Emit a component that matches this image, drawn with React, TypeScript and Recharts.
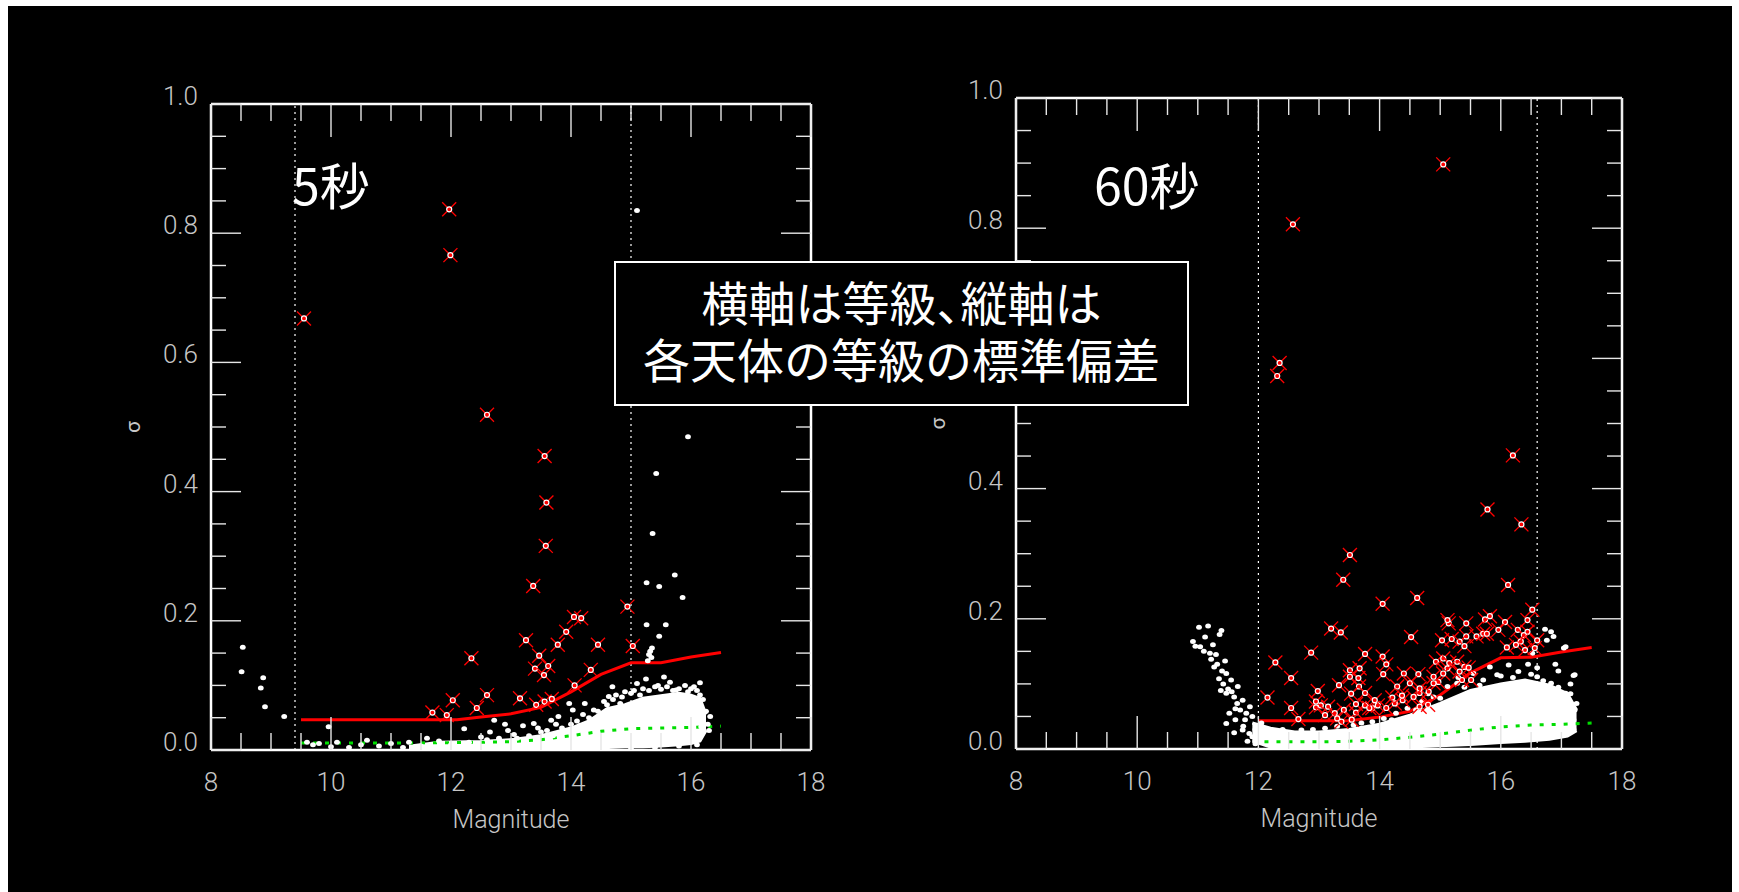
import React from "react";
import { Area, ComposedChart, Label, Line, ReferenceLine, Scatter, XAxis, YAxis } from "recharts";

// axis ticks: minor every 0.5 mag / 0.05 sigma, labels every 2 mag / 0.2 sigma
const magTicks = [8, 8.5, 9, 9.5, 10, 10.5, 11, 11.5, 12, 12.5, 13, 13.5, 14, 14.5, 15, 15.5, 16, 16.5, 17, 17.5, 18];
const magLabels = [8, 10, 12, 14, 16, 18];
const sigmaTicks = [0, 0.05, 0.1, 0.15, 0.2, 0.25, 0.3, 0.35, 0.4, 0.45, 0.5, 0.55, 0.6, 0.65, 0.7, 0.75, 0.8, 0.85, 0.9, 0.95, 1];
const sigmaLabels = ["0.0", "0.2", "0.4", "0.6", "0.8", "1.0"];

// ---- 5 sec exposure ----
const shortCuts = [9.4, 15.0];
const shortRejected: [number, number][] = [
  [9.55, 0.668], [11.97, 0.837], [11.99, 0.766], [12.6, 0.519],
  [13.56, 0.455], [13.59, 0.383], [13.58, 0.316], [13.37, 0.254], [14.94, 0.222], [14.05, 0.206],
  [14.17, 0.204], [13.92, 0.183], [13.25, 0.17], [13.78, 0.163], [14.45, 0.163], [15.03, 0.161],
  [12.34, 0.142], [13.47, 0.146], [13.4, 0.126], [13.62, 0.13], [13.55, 0.116], [14.33, 0.124],
  [14.06, 0.1], [12.6, 0.085], [12.03, 0.077], [13.15, 0.08], [12.43, 0.065], [13.42, 0.07],
  [13.56, 0.075], [13.68, 0.079], [11.69, 0.058], [11.93, 0.054],
];
const shortStars: [number, number][] = [
  [8.53, 0.159], [8.51, 0.121], [8.87, 0.112], [8.83, 0.096], [8.9, 0.067], [9.22, 0.052], [9.96, 0.036],
  [15.1, 0.835], [15.95, 0.485], [15.42, 0.428], [15.36, 0.335], [15.73, 0.271], [15.26, 0.259],
  [15.47, 0.253], [15.86, 0.236], [15.26, 0.194], [15.58, 0.194], [15.47, 0.176], [15.32, 0.153],
  [15.35, 0.158], [15.3, 0.148],
  [9.6, 0.012], [9.7, 0.008], [9.8, 0.01], [10.0, 0.005], [10.1, 0.012], [10.3, 0.004], [10.5, 0.008],
  [10.6, 0.015], [10.8, 0.006], [11.0, 0.01], [11.2, 0.004], [11.3, 0.012], [11.5, 0.006], [11.6, 0.018],
  [11.8, 0.014], [12.0, 0.008], [12.22, 0.033], [12.72, 0.046], [12.9, 0.04], [13.2, 0.0375], [13.38, 0.041],
  [13.67, 0.046], [13.79, 0.052], [13.97, 0.072], [14.03, 0.062], [14.23, 0.072], [14.38, 0.062],
  [14.63, 0.083], [14.69, 0.098], [14.82, 0.072], [15.1, 0.103], [15.28, 0.138], [15.34, 0.143],
  [15.55, 0.113], [15.4, 0.098], [15.75, 0.093], [16.05, 0.098], [16.32, 0.052], [16.17, 0.036],
  [12.5, 0.02], [12.65, 0.028], [12.8, 0.018], [12.95, 0.03], [13.05, 0.024], [13.3, 0.022],
  [13.45, 0.034], [13.6, 0.03], [13.75, 0.04], [13.85, 0.034], [14.1, 0.045], [14.2, 0.055],
  [14.3, 0.05], [14.45, 0.06], [14.55, 0.075], [14.75, 0.085], [14.9, 0.09], [15.05, 0.092],
  [15.2, 0.095], [15.45, 0.1], [15.6, 0.098], [15.8, 0.095], [15.95, 0.09], [16.1, 0.092],
  [16.25, 0.06], [16.28, 0.04], [16.3, 0.03],
  [14.6, 0.07], [14.7, 0.078], [14.85, 0.082], [15.0, 0.088], [15.15, 0.085], [15.3, 0.092], [15.5, 0.094],
  [15.7, 0.092], [15.9, 0.1], [16.0, 0.095], [16.15, 0.085], [16.2, 0.078], [15.25, 0.11], [15.65, 0.105],
  [16.15, 0.104], [12.1, 0.004], [12.3, 0.012], [12.45, 0.006], [12.6, 0.016], [12.85, 0.01], [13.1, 0.018],
  [13.25, 0.012], [13.5, 0.028], [13.7, 0.022], [13.9, 0.03], [14.0, 0.04], [14.15, 0.038], [14.35, 0.046],
  [14.6, 0.004], [15.0, 0.003], [15.4, 0.004], [15.8, 0.006], [16.1, 0.008],
];
const shortCloud: [number, number, number][] = [
  [11.3, 0.001, 0.006], [11.8, 0.0, 0.012], [12.5, 0.0, 0.013], [13.0, 0.0, 0.016], [13.5, 0.001, 0.022],
  [14.0, 0.002, 0.034], [14.3, 0.003, 0.045], [14.6, 0.004, 0.064], [14.9, 0.005, 0.07], [15.2, 0.005, 0.08],
  [15.5, 0.006, 0.084], [15.8, 0.008, 0.088], [16.0, 0.01, 0.085], [16.15, 0.014, 0.08], [16.25, 0.03, 0.055],
];
const shortLimit: [number, number][] = [
  [9.5, 0.047], [12.1, 0.047], [12.5, 0.051], [13.0, 0.056], [13.5, 0.066], [14.0, 0.09],
  [14.5, 0.117], [15.0, 0.135], [15.5, 0.135], [16.0, 0.144], [16.5, 0.151],
];
const shortNoise: [number, number][] = [
  [9.5, 0.011], [10.5, 0.011], [11.5, 0.011], [12.2, 0.0115], [13.0, 0.013], [13.5, 0.016],
  [14.0, 0.022], [14.5, 0.029], [15.0, 0.033], [15.5, 0.034], [16.0, 0.035], [16.5, 0.037],
];

// ---- 60 sec exposure ----
const longCuts = [12.0, 16.6];
const longRejected: [number, number][] = [
  [15.05, 0.898], [12.57, 0.806], [12.35, 0.593], [12.31, 0.573], [16.2, 0.451], [15.78, 0.368], [16.34, 0.345],
  [13.51, 0.298], [13.4, 0.26], [16.12, 0.252], [14.62, 0.232], [14.05, 0.223], [16.52, 0.214], [13.2, 0.185],
  [13.36, 0.179], [14.52, 0.172], [12.87, 0.148], [12.28, 0.133], [12.54, 0.109], [12.15, 0.079], [12.54, 0.063],
  [12.66, 0.046], [13.76, 0.146], [14.05, 0.142], [14.11, 0.13], [14.06, 0.115], [13.51, 0.121], [13.67, 0.124],
  [13.51, 0.111], [13.33, 0.098], [12.98, 0.089], [13.66, 0.096], [13.53, 0.085], [13.76, 0.086], [13.61, 0.069],
  [12.95, 0.064], [13.03, 0.067], [13.15, 0.065], [13.26, 0.055], [13.41, 0.06], [13.61, 0.056], [13.76, 0.067],
  [13.88, 0.063], [13.97, 0.067], [14.21, 0.079], [14.38, 0.075], [14.64, 0.115], [14.4, 0.116], [14.5, 0.101],
  [14.66, 0.086], [14.81, 0.088], [15.03, 0.167], [15.19, 0.169], [15.14, 0.193], [15.12, 0.198], [15.43, 0.193],
  [15.6, 0.173], [15.74, 0.199], [15.82, 0.204], [16.07, 0.195], [16.28, 0.183], [15.96, 0.183], [15.71, 0.177],
  [15.77, 0.177], [15.43, 0.173], [15.32, 0.165], [15.4, 0.158], [16.38, 0.175], [16.44, 0.198], [16.1, 0.156],
  [16.56, 0.155], [14.93, 0.134], [15.05, 0.139], [15.15, 0.132], [15.28, 0.134], [15.12, 0.124], [15.4, 0.126],
  [15.32, 0.119], [14.97, 0.103], [14.89, 0.101], [15.36, 0.106], [15.47, 0.125], [14.66, 0.093], [14.56, 0.08],
  [14.25, 0.07], [14.11, 0.063], [13.83, 0.063], [13.54, 0.045], [13.37, 0.042], [13.1, 0.052], [13.3, 0.047],
  [13.92, 0.075], [14.8, 0.068], [14.66, 0.065], [14.29, 0.096], [13.65, 0.109], [14.37, 0.082], [12.95, 0.073],
  [15.05, 0.116], [15.51, 0.106], [16.44, 0.18], [16.6, 0.167], [16.33, 0.165], [14.89, 0.111], [16.4, 0.152],
  [16.25, 0.16],
];
const longStars: [number, number][] = [
  [11.02, 0.187], [11.17, 0.189], [11.39, 0.182], [11.36, 0.176], [10.92, 0.165], [10.96, 0.158], [11.04, 0.157],
  [11.1, 0.15], [11.2, 0.147], [11.22, 0.138], [11.27, 0.126], [11.32, 0.13], [11.4, 0.12], [11.47, 0.116],
  [11.35, 0.108], [11.55, 0.106], [11.42, 0.1], [11.66, 0.096], [11.5, 0.092], [11.47, 0.0855], [11.6, 0.08],
  [11.74, 0.075], [11.65, 0.07], [11.86, 0.065], [11.7, 0.06], [11.8, 0.055], [11.9, 0.05], [11.62, 0.045],
  [11.47, 0.039], [11.75, 0.035], [11.74, 0.029], [11.85, 0.024], [11.9, 0.019], [12.01, 0.014], [11.95, 0.03],
  [12.05, 0.04], [11.12, 0.172], [11.25, 0.16], [11.3, 0.145], [11.45, 0.135], [11.38, 0.09], [11.56, 0.088],
  [11.62, 0.062], [11.52, 0.055], [11.78, 0.045], [11.6, 0.025], [11.82, 0.012], [11.95, 0.008],
  [12.32, 0.024], [12.71, 0.029], [13.1, 0.032], [13.57, 0.037], [13.88, 0.042], [14.07, 0.047], [14.27, 0.055],
  [14.46, 0.0625], [14.7, 0.073], [14.89, 0.08], [15.12, 0.096], [15.28, 0.101], [15.55, 0.116], [15.71, 0.106],
  [15.82, 0.126], [15.94, 0.114], [16.13, 0.129], [16.29, 0.119], [16.6, 0.111], [16.83, 0.101], [17.07, 0.0855],
  [16.83, 0.18], [16.87, 0.173], [16.73, 0.184], [16.76, 0.167], [17.07, 0.157], [17.04, 0.155], [17.22, 0.114],
  [16.52, 0.147], [17.2, 0.113], [16.45, 0.13], [16.95, 0.12], [17.15, 0.1], [17.25, 0.07], [17.2, 0.045],
  [12.4, 0.03], [12.9, 0.03], [13.3, 0.035], [13.7, 0.04], [14.2, 0.045], [14.6, 0.06], [15.0, 0.078],
  [15.4, 0.095], [15.65, 0.098], [16.0, 0.112], [16.2, 0.11], [16.5, 0.115], [16.7, 0.105], [16.95, 0.095],
  [17.15, 0.085], [17.22, 0.06], [17.2, 0.03], [16.9, 0.13], [16.6, 0.125], [15.3, 0.11], [14.8, 0.085],
];
const longCloud: [number, number, number][] = [
  [11.9, 0.012, 0.04], [12.2, 0.003, 0.032], [12.6, 0.0, 0.026], [13.0, 0.0, 0.026], [13.5, 0.0, 0.03],
  [14.0, 0.001, 0.038], [14.5, 0.003, 0.052], [15.0, 0.005, 0.07], [15.5, 0.007, 0.09], [16.0, 0.01, 0.1],
  [16.4, 0.012, 0.106], [16.8, 0.015, 0.098], [17.1, 0.02, 0.085], [17.25, 0.028, 0.06],
];
const longLimit: [number, number][] = [
  [12.0, 0.0435], [13.5, 0.0435], [14.0, 0.049], [14.5, 0.058], [15.0, 0.083], [15.5, 0.117],
  [16.0, 0.14], [16.5, 0.141], [17.0, 0.149], [17.5, 0.156],
];
const longNoise: [number, number][] = [
  [12.1, 0.011], [13.0, 0.011], [13.5, 0.012], [14.0, 0.014], [14.5, 0.018], [15.0, 0.023],
  [15.5, 0.029], [16.0, 0.034], [16.5, 0.037], [17.0, 0.038], [17.5, 0.04],
];

const GREY = "#c6c6c6";
const TICK = "#e6e6e6";
const NUM_FONT = "Roboto, 'DejaVu Sans', sans-serif";
const JP_FONT = "'Noto Sans CJK JP', 'Noto Sans', sans-serif";
const frame = { stroke: "#ffffff", strokeWidth: 2.5 };

const pts = (rows: [number, number][]) => rows.map(([x, y]) => ({ x, y }));
const band = (rows: [number, number, number][]) => rows.map(([x, lo, hi]) => ({ x, band: [lo, hi] }));

const isMajorMag = (v: number) => magLabels.includes(v);
const isMajorSigma = (v: number) => Math.abs(v * 5 - Math.round(v * 5)) < 1e-6;

function BottomTick({ x, y, payload }: any) {
  const major = isMajorMag(payload.value);
  return (
    <g>
      <line x1={x} x2={x} y1={y} y2={y - (major ? 33 : 17)} stroke={TICK} strokeWidth={1.4} />
      {major && (
        <text x={x} y={y + 41} textAnchor="middle" fill={GREY} fontSize={26} fontWeight={300} fontFamily={NUM_FONT}>
          {payload.value}
        </text>
      )}
    </g>
  );
}

function TopTick({ x, y, payload }: any) {
  const major = isMajorMag(payload.value);
  return <line x1={x} x2={x} y1={y} y2={y + (major ? 33 : 17)} stroke={TICK} strokeWidth={1.4} />;
}

function LeftTick({ x, y, payload }: any) {
  const major = isMajorSigma(payload.value);
  return (
    <g>
      <line x1={x} x2={x + (major ? 30 : 15)} y1={y} y2={y} stroke={TICK} strokeWidth={1.4} />
      {major && (
        <text x={x - 13} y={y + 1} textAnchor="end" fill={GREY} fontSize={26} fontWeight={300} fontFamily={NUM_FONT}>
          {sigmaLabels[Math.round(payload.value * 5)]}
        </text>
      )}
    </g>
  );
}

function RightTick({ x, y, payload }: any) {
  const major = isMajorSigma(payload.value);
  return <line x1={x} x2={x - (major ? 30 : 15)} y1={y} y2={y} stroke={TICK} strokeWidth={1.4} />;
}

function WhiteDot({ cx, cy }: any) {
  return <ellipse cx={cx} cy={cy} rx={2.9} ry={2.5} fill="#ffffff" />;
}

function RedCross({ cx, cy }: any) {
  const d = 7;
  return (
    <g>
      <line x1={cx - d} y1={cy - d} x2={cx + d} y2={cy + d} stroke="#ff0000" strokeWidth={1.3} />
      <line x1={cx - d} y1={cy + d} x2={cx + d} y2={cy - d} stroke="#ff0000" strokeWidth={1.3} />
      <circle cx={cx} cy={cy} r={2.5} fill="#ff0000" stroke="#ffffff" strokeWidth={1.2} />
    </g>
  );
}

function MagnitudeLabel({ viewBox }: any) {
  if (!viewBox) return null;
  return (
    <text x={viewBox.x + viewBox.width / 2} y={viewBox.y + 78} textAnchor="middle" fill={GREY} fontSize={25} fontWeight={300} fontFamily={NUM_FONT}>
      Magnitude
    </text>
  );
}

function SigmaLabel({ viewBox }: any) {
  if (!viewBox) return null;
  const x = viewBox.x - 18;
  const y = viewBox.y + viewBox.height / 2;
  return (
    <text x={x} y={y} transform={`rotate(-90 ${x} ${y})`} textAnchor="middle" dominantBaseline="central" fill={GREY} fontSize={21} fontFamily={NUM_FONT}>
      σ
    </text>
  );
}

type PanelProps = {
  width: number;
  height: number;
  margin: { top: number; right: number; bottom: number; left: number };
  cuts: number[];
  cloud: [number, number, number][];
  stars: [number, number][];
  rejected: [number, number][];
  limit: [number, number][];
  noise: [number, number][];
};

function Panel({ width, height, margin, cuts, cloud, stars, rejected, limit, noise }: PanelProps) {
  return (
    <ComposedChart width={width} height={height} margin={margin}>
      <XAxis xAxisId="b" type="number" dataKey="x" domain={[8, 18]} ticks={magTicks} interval={0} allowDataOverflow
        height={60} tickSize={0} tickMargin={0} tick={BottomTick} axisLine={frame} tickLine={false}>
        <Label content={MagnitudeLabel} />
      </XAxis>
      <XAxis xAxisId="t" orientation="top" type="number" dataKey="x" domain={[8, 18]} ticks={magTicks} interval={0} allowDataOverflow
        height={10} tickSize={0} tickMargin={0} tick={TopTick} axisLine={frame} tickLine={false} />
      <YAxis yAxisId="l" type="number" dataKey="y" domain={[0, 1]} ticks={sigmaTicks} interval={0} allowDataOverflow
        width={60} tickSize={0} tickMargin={0} tick={LeftTick} axisLine={frame} tickLine={false}>
        <Label content={SigmaLabel} />
      </YAxis>
      <YAxis yAxisId="r" orientation="right" type="number" dataKey="y" domain={[0, 1]} ticks={sigmaTicks} interval={0} allowDataOverflow
        width={10} tickSize={0} tickMargin={0} tick={RightTick} axisLine={frame} tickLine={false} />
      {cuts.map((c) => (
        <ReferenceLine key={c} xAxisId="b" yAxisId="l" x={c} stroke="#ffffff" strokeWidth={1.2} strokeDasharray="2 4" />
      ))}
      <Area xAxisId="b" yAxisId="l" data={band(cloud)} dataKey="band" type="linear" stroke="#ffffff" strokeWidth={3}
        fill="#ffffff" fillOpacity={1} dot={false} activeDot={false} isAnimationActive={false} />
      <Scatter xAxisId="b" yAxisId="l" data={pts(stars)} dataKey="y" shape={WhiteDot} isAnimationActive={false} />
      <Line xAxisId="b" yAxisId="l" data={pts(noise)} dataKey="y" type="linear" stroke="#00dd00" strokeWidth={3}
        strokeDasharray="4 8" dot={false} activeDot={false} isAnimationActive={false} />
      <Line xAxisId="b" yAxisId="l" data={pts(limit)} dataKey="y" type="linear" stroke="#ff0000" strokeWidth={3}
        dot={false} activeDot={false} isAnimationActive={false} />
      <Scatter xAxisId="b" yAxisId="l" data={pts(rejected)} dataKey="y" shape={RedCross} isAnimationActive={false} />
    </ComposedChart>
  );
}

export default function App() {
  return (
    <div style={{ position: "absolute", left: 0, top: 0, width: 1739, height: 892, background: "#ffffff", overflow: "hidden" }}>
      <div style={{ position: "absolute", left: 8, top: 6, width: 1724, height: 886, background: "#000000" }} />
      <div style={{ position: "absolute", left: 0, top: 0 }}>
        <Panel width={900} height={892} margin={{ top: 94, right: 79, bottom: 82, left: 151 }}
          cuts={shortCuts} cloud={shortCloud} stars={shortStars} rejected={shortRejected} limit={shortLimit} noise={shortNoise} />
      </div>
      <div style={{ position: "absolute", left: 880, top: 0 }}>
        <Panel width={859} height={892} margin={{ top: 88, right: 107, bottom: 83, left: 76 }}
          cuts={longCuts} cloud={longCloud} stars={longStars} rejected={longRejected} limit={longLimit} noise={longNoise} />
      </div>
      <div style={{ position: "absolute", left: 292, top: 158, color: "#ffffff", fontFamily: JP_FONT, fontSize: 50, lineHeight: 1 }}>
        5秒
      </div>
      <div style={{ position: "absolute", left: 1094, top: 158, color: "#ffffff", fontFamily: JP_FONT, fontSize: 50, lineHeight: 1 }}>
        60秒
      </div>
      <div style={{
        position: "absolute", left: 614, top: 261, width: 571, height: 132, border: "2px solid #ffffff",
        background: "#000000", color: "#ffffff", fontFamily: JP_FONT, fontSize: 47, lineHeight: "57px",
        textAlign: "center", paddingTop: 9, boxSizing: "content-box",
      }}>
        <div>横軸は等級<span style={{ display: "inline-block", width: 24, textAlign: "left" }}>、</span>縦軸は</div>
        <div>各天体の等級の標準偏差</div>
      </div>
    </div>
  );
}
